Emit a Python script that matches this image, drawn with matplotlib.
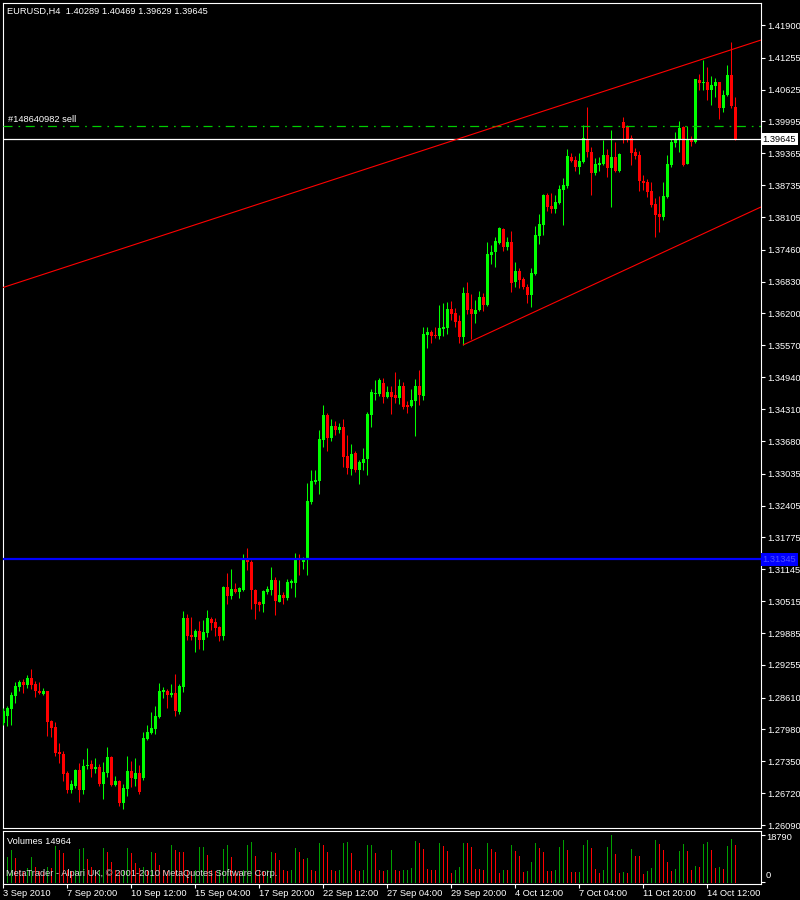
import matplotlib
matplotlib.use('Agg')
import matplotlib.pyplot as plt
import numpy as np

plt.rcParams['font.family'] = ['Liberation Sans', 'DejaVu Sans']
plt.rcParams['lines.scale_dashes'] = False

# EURUSD H4 candles, 3 Sep 2010 .. 15 Oct 2010
opens = [
    1.2811, 1.2825, 1.2838, 1.2864, 1.2882, 1.2892, 1.2886, 1.2900, 1.2888, 1.2874,
    1.2868, 1.2874, 1.2815, 1.2803, 1.2753, 1.2750, 1.2712, 1.2678, 1.2686, 1.2718,
    1.2678, 1.2726, 1.2730, 1.2720, 1.2724, 1.2690, 1.2712, 1.2744, 1.2688, 1.2696,
    1.2653, 1.2680, 1.2716, 1.2700, 1.2712, 1.2702, 1.2779, 1.2791, 1.2799, 1.2823,
    1.2872, 1.2874, 1.2866, 1.2870, 1.2833, 1.2882, 1.3018, 1.2985, 1.2981, 1.2993,
    1.2975, 1.2989, 1.3016, 1.3010, 1.3001, 1.2983, 1.3080, 1.3062, 1.3076, 1.3070,
    1.3074, 1.3133, 1.3129, 1.3074, 1.3050, 1.3046, 1.3070, 1.3074, 1.3093, 1.3050,
    1.3064, 1.3058, 1.3087, 1.3087, 1.3137, 1.3129, 1.3135, 1.3247, 1.3287, 1.3289,
    1.3370, 1.3419, 1.3374, 1.3398, 1.3390, 1.3396, 1.3338, 1.3313, 1.3344, 1.3311,
    1.3324, 1.3332, 1.3419, 1.3461, 1.3461, 1.3483, 1.3455, 1.3465, 1.3459, 1.3453,
    1.3477, 1.3439, 1.3437, 1.3447, 1.3477, 1.3457, 1.3577, 1.3583, 1.3577, 1.3575,
    1.3589, 1.3591, 1.3629, 1.3621, 1.3605, 1.3573, 1.3660, 1.3629, 1.3619, 1.3627,
    1.3653, 1.3637, 1.3736, 1.3742, 1.3759, 1.3787, 1.3751, 1.3761, 1.3682, 1.3704,
    1.3688, 1.3672, 1.3656, 1.3698, 1.3773, 1.3795, 1.3854, 1.3832, 1.3826, 1.3838,
    1.3864, 1.3872, 1.3929, 1.3924, 1.3910, 1.3920, 1.3965, 1.3939, 1.3898, 1.3914,
    1.3916, 1.3933, 1.3908, 1.3929, 1.3902, 1.3999, 1.3989, 1.3967, 1.3939, 1.3933,
    1.3882, 1.3880, 1.3862, 1.3836, 1.3817, 1.3811, 1.3850, 1.3914, 1.3957, 1.3963,
    1.3989, 1.3916, 1.3965, 1.3959, 1.4081, 1.4075, 1.4077, 1.4062, 1.4069, 1.4077,
    1.4026, 1.4052, 1.4091, 1.40289,
]
highs = [
    1.2840, 1.2844, 1.2872, 1.2892, 1.2896, 1.2898, 1.2906, 1.2918, 1.2894, 1.2892,
    1.2880, 1.2875, 1.2816, 1.2813, 1.2771, 1.2755, 1.2716, 1.2698, 1.2720, 1.2732,
    1.2740, 1.2761, 1.2738, 1.2742, 1.2730, 1.2734, 1.2763, 1.2746, 1.2706, 1.2698,
    1.2690, 1.2746, 1.2736, 1.2742, 1.2728, 1.2793, 1.2807, 1.2833, 1.2844, 1.2890,
    1.2882, 1.2878, 1.2888, 1.2908, 1.2888, 1.3032, 1.3026, 1.3020, 1.2997, 1.3012,
    1.3014, 1.3034, 1.3020, 1.3018, 1.3003, 1.3082, 1.3107, 1.3115, 1.3087, 1.3080,
    1.3145, 1.3157, 1.3133, 1.3076, 1.3052, 1.3074, 1.3082, 1.3119, 1.3099, 1.3093,
    1.3070, 1.3095, 1.3095, 1.3147, 1.3145, 1.3139, 1.3285, 1.3311, 1.3311, 1.3390,
    1.3439, 1.3423, 1.3411, 1.3407, 1.3404, 1.3411, 1.3380, 1.3362, 1.3348, 1.3330,
    1.3354, 1.3425, 1.3471, 1.3489, 1.3493, 1.3493, 1.3477, 1.3477, 1.3504, 1.3491,
    1.3485, 1.3447, 1.3471, 1.3491, 1.3508, 1.3593, 1.3593, 1.3587, 1.3593, 1.3637,
    1.3641, 1.3643, 1.3645, 1.3631, 1.3617, 1.3672, 1.3682, 1.3658, 1.3647, 1.3664,
    1.3660, 1.3761, 1.3755, 1.3771, 1.3791, 1.3789, 1.3771, 1.3783, 1.3722, 1.3710,
    1.3692, 1.3678, 1.3710, 1.3793, 1.3817, 1.3856, 1.3858, 1.3858, 1.3854, 1.3874,
    1.3888, 1.3945, 1.3937, 1.3931, 1.3937, 1.3992, 1.4028, 1.3949, 1.3927, 1.3929,
    1.3963, 1.3945, 1.3983, 1.3959, 1.3937, 1.4009, 1.3992, 1.3973, 1.3947, 1.3941,
    1.3894, 1.3886, 1.3880, 1.3848, 1.3852, 1.3880, 1.3933, 1.3965, 1.3979, 1.4000,
    1.3990, 1.3990, 1.3971, 1.4084, 1.4093, 1.4121, 1.4107, 1.4089, 1.4085, 1.4078,
    1.4062, 1.4111, 1.4156, 1.40469,
]
lows = [
    1.2807, 1.2805, 1.2807, 1.2850, 1.2874, 1.2870, 1.2880, 1.2878, 1.2862, 1.2868,
    1.2866, 1.2785, 1.2783, 1.2746, 1.2732, 1.2696, 1.2672, 1.2672, 1.2682, 1.2655,
    1.2670, 1.2720, 1.2704, 1.2712, 1.2686, 1.2661, 1.2704, 1.2686, 1.2686, 1.2647,
    1.2641, 1.2667, 1.2684, 1.2686, 1.2670, 1.2698, 1.2777, 1.2789, 1.2789, 1.2821,
    1.2860, 1.2840, 1.2862, 1.2825, 1.2829, 1.2872, 1.2975, 1.2975, 1.2951, 1.2957,
    1.2955, 1.2981, 1.2995, 1.2983, 1.2973, 1.2975, 1.3046, 1.3056, 1.3068, 1.3058,
    1.3072, 1.3113, 1.3036, 1.3016, 1.3032, 1.3030, 1.3066, 1.3064, 1.3024, 1.3050,
    1.3046, 1.3054, 1.3078, 1.3060, 1.3103, 1.3115, 1.3103, 1.3243, 1.3283, 1.3263,
    1.3356, 1.3348, 1.3368, 1.3380, 1.3384, 1.3317, 1.3303, 1.3301, 1.3307, 1.3283,
    1.3311, 1.3301, 1.3396, 1.3449, 1.3457, 1.3443, 1.3453, 1.3421, 1.3443, 1.3441,
    1.3431, 1.3423, 1.3435, 1.3378, 1.3439, 1.3449, 1.3552, 1.3561, 1.3571, 1.3569,
    1.3575, 1.3579, 1.3607, 1.3593, 1.3561, 1.3558, 1.3619, 1.3569, 1.3601, 1.3625,
    1.3625, 1.3635, 1.3718, 1.3712, 1.3757, 1.3744, 1.3746, 1.3662, 1.3672, 1.3670,
    1.3668, 1.3641, 1.3633, 1.3696, 1.3757, 1.3775, 1.3822, 1.3818, 1.3818, 1.3836,
    1.3795, 1.3868, 1.3920, 1.3902, 1.3896, 1.3918, 1.3929, 1.3854, 1.3894, 1.3902,
    1.3914, 1.3890, 1.3830, 1.3900, 1.3900, 1.3957, 1.3959, 1.3914, 1.3925, 1.3862,
    1.3864, 1.3850, 1.3830, 1.3771, 1.3781, 1.3805, 1.3848, 1.3910, 1.3949, 1.3939,
    1.3912, 1.3916, 1.3951, 1.3957, 1.4062, 1.4062, 1.4042, 1.4032, 1.4048, 1.4004,
    1.4018, 1.4050, 1.4026, 1.39629,
]
closes = [
    1.2835, 1.2840, 1.2866, 1.2884, 1.2892, 1.2886, 1.2900, 1.2886, 1.2874, 1.2870,
    1.2874, 1.2813, 1.2801, 1.2752, 1.2750, 1.2710, 1.2678, 1.2690, 1.2718, 1.2678,
    1.2726, 1.2728, 1.2720, 1.2724, 1.2690, 1.2714, 1.2744, 1.2688, 1.2696, 1.2653,
    1.2682, 1.2716, 1.2702, 1.2712, 1.2674, 1.2781, 1.2793, 1.2801, 1.2825, 1.2874,
    1.2876, 1.2866, 1.2870, 1.2835, 1.2884, 1.3018, 1.2983, 1.2981, 1.2993, 1.2975,
    1.2991, 1.3018, 1.3008, 1.2999, 1.2983, 1.3080, 1.3062, 1.3076, 1.3070, 1.3078,
    1.3133, 1.3129, 1.3074, 1.3046, 1.3044, 1.3072, 1.3076, 1.3093, 1.3052, 1.3064,
    1.3058, 1.3089, 1.3091, 1.3137, 1.3133, 1.3133, 1.3249, 1.3289, 1.3291, 1.3372,
    1.3419, 1.3374, 1.3398, 1.3390, 1.3396, 1.3336, 1.3315, 1.3342, 1.3311, 1.3326,
    1.3332, 1.3421, 1.3465, 1.3463, 1.3489, 1.3455, 1.3465, 1.3455, 1.3453, 1.3477,
    1.3435, 1.3435, 1.3449, 1.3477, 1.3459, 1.3579, 1.3583, 1.3575, 1.3575, 1.3591,
    1.3593, 1.3629, 1.3619, 1.3603, 1.3573, 1.3660, 1.3627, 1.3619, 1.3627, 1.3653,
    1.3637, 1.3738, 1.3742, 1.3763, 1.3789, 1.3751, 1.3761, 1.3680, 1.3704, 1.3686,
    1.3672, 1.3656, 1.3700, 1.3775, 1.3797, 1.3854, 1.3830, 1.3826, 1.3840, 1.3866,
    1.3874, 1.3931, 1.3922, 1.3910, 1.3922, 1.3967, 1.3939, 1.3898, 1.3916, 1.3918,
    1.3933, 1.3908, 1.3929, 1.3902, 1.3935, 1.3987, 1.3963, 1.3937, 1.3931, 1.3882,
    1.3878, 1.3860, 1.3834, 1.3815, 1.3811, 1.3852, 1.3916, 1.3959, 1.3965, 1.3987,
    1.3914, 1.3965, 1.3959, 1.4083, 1.4075, 1.4077, 1.4062, 1.4071, 1.4077, 1.4026,
    1.4052, 1.4091, 1.4029, 1.39645,
]
volumes = [
    4000, 10100, 12800, 9500, 5000, 4000, 5500, 10100, 6000, 4500,
    4000, 6000, 5500, 14400, 12800, 11500, 5000, 4500, 5000, 13400,
    13600, 9100, 6000, 4500, 5000, 13500, 11900, 8100, 5000, 4500,
    5000, 13700, 11500, 7500, 5500, 6000, 5000, 12100, 11500, 7000,
    5000, 4500, 14800, 13000, 12100, 11900, 5000, 4500, 5000, 14100,
    14200, 10800, 5000, 4500, 5000, 13100, 14800, 10100, 5000, 4500,
    5000, 14800, 16100, 10400, 5000, 4500, 5000, 12100, 11500, 8800,
    5000, 4500, 5000, 13500, 12100, 9100, 9500, 5000, 4500, 15700,
    14800, 12100, 5000, 4500, 5000, 15700, 16100, 11500, 5000, 4500,
    5000, 14800, 14900, 11500, 5000, 4500, 5000, 12800, 5000, 4500,
    4800, 4900, 5700, 16400, 15700, 13200, 5200, 4800, 4800, 15600,
    14400, 12400, 3500, 4800, 6100, 15600, 15500, 14100, 5200, 5100,
    4800, 15600, 13200, 11900, 3700, 4800, 4700, 14800, 12400, 10400,
    4100, 4500, 8000, 15600, 13700, 11900, 4500, 4400, 4800, 14000,
    16800, 12800, 4100, 4000, 4100, 14800, 16800, 13600, 5200, 3700,
    4800, 14000, 18790, 11200, 3700, 4100, 3600, 13200, 10500, 10400,
    3200, 4400, 5700, 16800, 15200, 12800, 8000, 4400, 5200, 12400,
    15200, 12400, 4800, 6400, 6100, 15200, 16000, 12800, 5700, 6100,
    5200, 14400, 17200, 14964,
]

time_ticks = [0, 16, 32, 48, 64, 80, 96, 112, 128, 144, 160, 176]
time_labels = ['3 Sep 2010', '7 Sep 20:00', '10 Sep 12:00', '15 Sep 04:00',
               '17 Sep 20:00', '22 Sep 12:00', '27 Sep 04:00', '29 Sep 20:00',
               '4 Oct 12:00', '7 Oct 04:00', '11 Oct 20:00', '14 Oct 12:00']
price_ticks = [1.41900, 1.41255, 1.40625, 1.39995, 1.39365, 1.38735, 1.38105,
               1.37460, 1.36830, 1.36200, 1.35570, 1.34940, 1.34310, 1.33680,
               1.33035, 1.32405, 1.31775, 1.31145, 1.30515, 1.29885, 1.29255,
               1.28610, 1.27980, 1.27350, 1.26720, 1.26090]

bid_price = 1.39645
hline_price = 1.31345
order_price = 1.3990
upper_trend = ([-0.2, 189.3], [1.3671, 1.4160])
lower_trend = ([115, 189.3], [1.3558, 1.3830])

o = np.array(opens); h = np.array(highs); l = np.array(lows); c = np.array(closes)
v = np.array(volumes)
x = np.arange(len(o))

W, H = 800, 900
fig = plt.figure(figsize=(8, 9), dpi=100, facecolor='black')


def box(left, top, right, bottom):
    return [left / W, 1 - bottom / H, (right - left) / W, (bottom - top) / H]


ax = fig.add_axes(box(2.5, 2.5, 760.5, 828))
axv = fig.add_axes(box(2.5, 830.5, 760.5, 883.5))

for a in (ax, axv):
    a.set_facecolor('black')
    for s in a.spines.values():
        s.set_color('white')
        s.set_linewidth(0.8)
    a.set_xlim(-0.2, 189.3)

# candles
up = c >= o
col = np.where(up, '#00ff00', '#ff0000')
ax.vlines(x, l, h, colors=col, lw=0.75, zorder=3)
body_lo = np.minimum(o, c)
body_h = np.maximum(np.abs(c - o), 0.00015)
ax.bar(x, body_h, bottom=body_lo, width=0.75, color=col, linewidth=0, zorder=4)

ax.set_ylim(1.26033, 1.42345)
ax.set_yticks(price_ticks)
ax.set_yticklabels([f'{p:.5f}' for p in price_ticks])
ax.yaxis.tick_right()
ax.tick_params(axis='y', direction='out', length=3, width=0.8, colors='white',
               labelsize=6.7, pad=1.5)
ax.tick_params(axis='x', bottom=False, labelbottom=False)

# lines
ax.axhline(order_price, color='#00cc00', lw=0.9, linestyle=(0, (6.5, 4.3, 1.2, 4.0)), zorder=5)
ax.axhline(bid_price, color='white', lw=0.9, zorder=5)
ax.axhline(hline_price, color='#0000ff', lw=1.6, zorder=5)
ax.plot(*upper_trend, color='#ff0000', lw=0.8, zorder=5)
ax.plot(*lower_trend, color='#ff0000', lw=0.8, zorder=5)

ax.text(1.0 + 2 / 758, bid_price, f'{bid_price:.5f}', transform=ax.get_yaxis_transform(),
        ha='left', va='center', fontsize=6.7, color='black', clip_on=False, zorder=10,
        bbox=dict(boxstyle='square,pad=0.2', fc='white', ec='none'))
ax.text(1.0 + 2 / 758, hline_price, f'{hline_price:.5f}', transform=ax.get_yaxis_transform(),
        ha='left', va='center', fontsize=6.7, color='#5050ff', clip_on=False, zorder=10,
        bbox=dict(boxstyle='square,pad=0.2', fc='#0000ff', ec='none'))

fig.text(7 / W, 1 - 11 / H, 'EURUSD,H4  1.40289 1.40469 1.39629 1.39645',
         color='white', fontsize=6.7, va='center')
fig.text(8 / W, 1 - 120 / H, '#148640982 sell', color='white', fontsize=6.7, va='center')

# volumes
vcol = ['#00a000'] + ['#00a000' if v[i] > v[i - 1] else '#ff0000' for i in range(1, len(v))]
axv.vlines(x, 0, v, colors=vcol, lw=0.7, antialiased=False)
axv.set_ylim(-600, 20600)
axv.set_yticks([0, 18790])
axv.set_yticklabels(['', ''])
axv.yaxis.tick_right()
axv.tick_params(axis='y', direction='out', length=3, width=0.8, colors='white')
axv.set_xticks(time_ticks)
axv.set_xticklabels(time_labels, ha='left')
axv.tick_params(axis='x', direction='out', length=3, width=0.8, colors='white',
                labelsize=6.7, pad=1)
fig.text(766 / W, 1 - 838 / H, '18790', color='white', fontsize=6.7, va='center')
fig.text(766 / W, 1 - 875 / H, '0', color='white', fontsize=6.7, va='center')
fig.text(7 / W, 1 - 841 / H, 'Volumes 14964', color='white', fontsize=6.7, va='center')
fig.text(6 / W, 1 - 874 / H, 'MetaTrader - Alpari UK, \u00a9 2001-2010 MetaQuotes Software Corp.',
         color='#d8d8d8', fontsize=6.7, va='center', zorder=10)

fig.savefig('out.png', dpi=100, facecolor='black')
